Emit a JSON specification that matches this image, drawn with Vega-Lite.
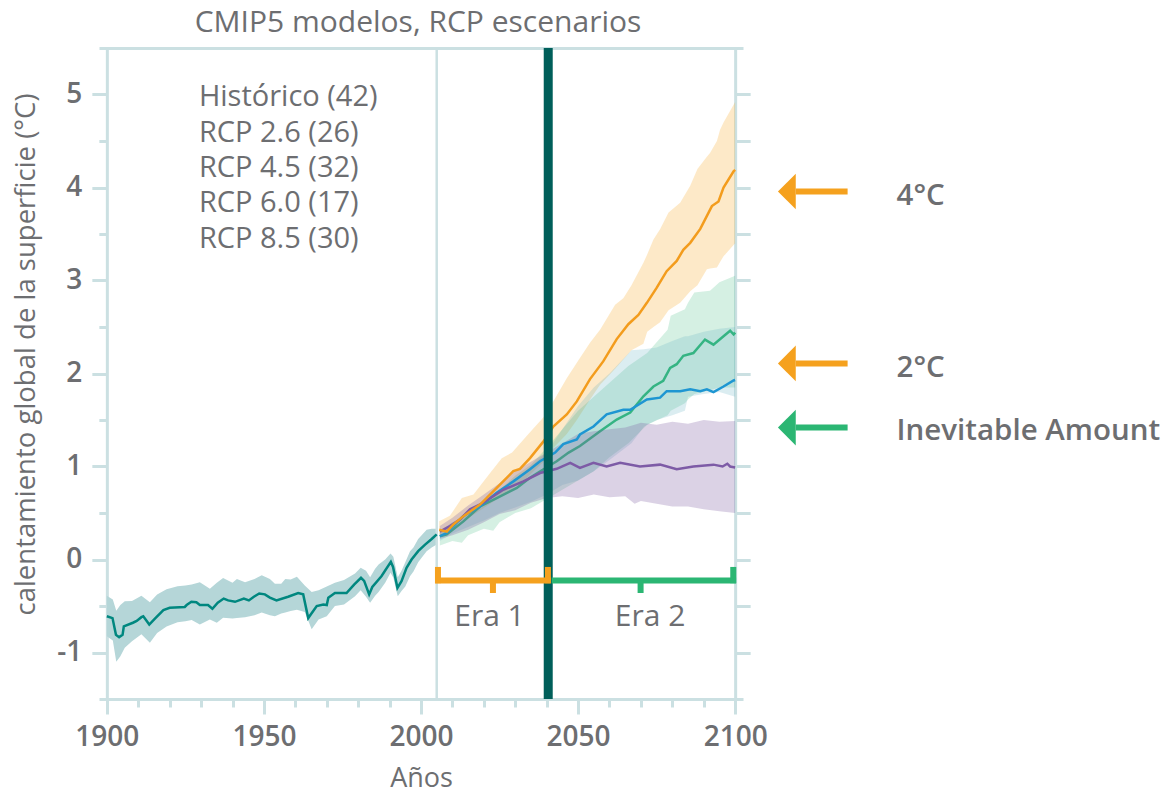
{
  "$schema": "https://vega.github.io/schema/vega-lite/v6.json",
  "width": 644,
  "height": 651,
  "autosize": {"type": "none"},
  "padding": {"left": 99, "top": 48, "right": 426, "bottom": 95},
  "background": "white",
  "config": {
    "view": {"stroke": null},
    "font": "Open Sans",
    "axis": {
      "domainColor": "#CBE0E2", "domainWidth": 3, "tickColor": "#CBE0E2", "tickWidth": 3,
      "grid": false, "labelFont": "Open Sans", "labelColor": "#6D6E71", "titleFont": "Open Sans", "titleColor": "#6D6E71"
    }
  },
  "title": {"text": "CMIP5 modelos, RCP escenarios", "fontSize": 30, "fontWeight": "normal", "color": "#6D6E71", "font": "Open Sans", "offset": 6, "anchor": "middle", "dx": -3},
  "datasets": {
    "hist": [
      {"yr":1900,"v":-0.61},{"yr":1901.8,"v":-0.63},{"yr":1902.9,"v":-0.81},{"yr":1903.9,"v":-0.835},{"yr":1905,"v":-0.81},{"yr":1905.4,"v":-0.72},{"yr":1908.3,"v":-0.68},{"yr":1909.5,"v":-0.66},{"yr":1911,"v":-0.62},{"yr":1911.6,"v":-0.61},{"yr":1913.5,"v":-0.70},{"yr":1915.3,"v":-0.635},{"yr":1918,"v":-0.545},{"yr":1920,"v":-0.52},{"yr":1924.8,"v":-0.51},{"yr":1925.4,"v":-0.49},{"yr":1926.9,"v":-0.455},{"yr":1928.5,"v":-0.46},{"yr":1929.6,"v":-0.49},{"yr":1932.2,"v":-0.49},{"yr":1933.6,"v":-0.53},{"yr":1935.3,"v":-0.465},{"yr":1937.2,"v":-0.42},{"yr":1938.6,"v":-0.44},{"yr":1940.8,"v":-0.455},{"yr":1943.6,"v":-0.42},{"yr":1945.2,"v":-0.44},{"yr":1946.8,"v":-0.40},{"yr":1948.5,"v":-0.365},{"yr":1950.3,"v":-0.375},{"yr":1951.9,"v":-0.41},{"yr":1954,"v":-0.44},{"yr":1957.7,"v":-0.40},{"yr":1960.9,"v":-0.36},{"yr":1962.5,"v":-0.375},{"yr":1964.1,"v":-0.63},{"yr":1966.8,"v":-0.50},{"yr":1968.9,"v":-0.485},{"yr":1970,"v":-0.49},{"yr":1970.5,"v":-0.41},{"yr":1972.6,"v":-0.36},{"yr":1976.3,"v":-0.36},{"yr":1978.7,"v":-0.27},{"yr":1980.9,"v":-0.197},{"yr":1981.9,"v":-0.23},{"yr":1983.5,"v":-0.375},{"yr":1984.5,"v":-0.295},{"yr":1987.4,"v":-0.18},{"yr":1990.4,"v":-0.025},{"yr":1991.1,"v":-0.08},{"yr":1992.5,"v":-0.305},{"yr":1993.8,"v":-0.233},{"yr":1995.4,"v":-0.09},{"yr":1997,"v":0.0},{"yr":1999.1,"v":0.09},{"yr":2001.3,"v":0.16},{"yr":2003.4,"v":0.22},{"yr":2005,"v":0.27}
    ],
    "histband": [
      {"yr":1900,"lo":-0.825,"hi":-0.39},{"yr":1901.9,"lo":-0.87,"hi":-0.43},{"yr":1903,"lo":-1.1,"hi":-0.55},{"yr":1904.3,"lo":-1.04,"hi":-0.49},{"yr":1905.7,"lo":-0.95,"hi":-0.45},{"yr":1908,"lo":-0.88,"hi":-0.445},{"yr":1911,"lo":-0.805,"hi":-0.39},{"yr":1913.7,"lo":-0.895,"hi":-0.46},{"yr":1916,"lo":-0.79,"hi":-0.375},{"yr":1919,"lo":-0.72,"hi":-0.32},{"yr":1922.5,"lo":-0.675,"hi":-0.287},{"yr":1925,"lo":-0.665,"hi":-0.28},{"yr":1927,"lo":-0.65,"hi":-0.27},{"yr":1929.6,"lo":-0.70,"hi":-0.245},{"yr":1932.8,"lo":-0.645,"hi":-0.315},{"yr":1935,"lo":-0.68,"hi":-0.25},{"yr":1937,"lo":-0.625,"hi":-0.2},{"yr":1940,"lo":-0.635,"hi":-0.25},{"yr":1941.4,"lo":-0.63,"hi":-0.21},{"yr":1944,"lo":-0.62,"hi":-0.245},{"yr":1947,"lo":-0.6,"hi":-0.21},{"yr":1949.3,"lo":-0.57,"hi":-0.17},{"yr":1951.9,"lo":-0.6,"hi":-0.21},{"yr":1953.5,"lo":-0.61,"hi":-0.26},{"yr":1955.5,"lo":-0.58,"hi":-0.26},{"yr":1956.8,"lo":-0.57,"hi":-0.21},{"yr":1958.5,"lo":-0.555,"hi":-0.215},{"yr":1960.5,"lo":-0.54,"hi":-0.185},{"yr":1963,"lo":-0.565,"hi":-0.28},{"yr":1965.2,"lo":-0.75,"hi":-0.35},{"yr":1967.4,"lo":-0.645,"hi":-0.33},{"yr":1970,"lo":-0.61,"hi":-0.29},{"yr":1972.6,"lo":-0.5,"hi":-0.25},{"yr":1975.5,"lo":-0.485,"hi":-0.22},{"yr":1979,"lo":-0.395,"hi":-0.15},{"yr":1980.8,"lo":-0.33,"hi":-0.09},{"yr":1982.5,"lo":-0.4,"hi":-0.12},{"yr":1983.8,"lo":-0.465,"hi":-0.19},{"yr":1985.4,"lo":-0.39,"hi":-0.1},{"yr":1986.5,"lo":-0.35,"hi":-0.055},{"yr":1988.6,"lo":-0.25,"hi":0.0},{"yr":1990.3,"lo":-0.143,"hi":0.065},{"yr":1991.2,"lo":-0.195,"hi":0.03},{"yr":1992.6,"lo":-0.395,"hi":-0.19},{"yr":1993.8,"lo":-0.34,"hi":-0.12},{"yr":1995,"lo":-0.29,"hi":-0.03},{"yr":1996.5,"lo":-0.18,"hi":0.09},{"yr":1997.6,"lo":-0.13,"hi":0.13},{"yr":1999.1,"lo":-0.03,"hi":0.22},{"yr":2000.2,"lo":0.018,"hi":0.26},{"yr":2001.8,"lo":0.09,"hi":0.32},{"yr":2003.4,"lo":0.13,"hi":0.33},{"yr":2005,"lo":0.16,"hi":0.33}
    ],
    "fut": [
      {"s":"rcp85","yr":2005.8,"v":0.32},{"s":"rcp85","yr":2008.2,"v":0.30},{"s":"rcp85","yr":2010.3,"v":0.376},{"s":"rcp85","yr":2013.5,"v":0.466},{"s":"rcp85","yr":2018.8,"v":0.59},{"s":"rcp85","yr":2024.1,"v":0.77},{"s":"rcp85","yr":2029.4,"v":0.95},{"s":"rcp85","yr":2031.5,"v":0.975},{"s":"rcp85","yr":2034.7,"v":1.09},{"s":"rcp85","yr":2039,"v":1.27},{"s":"rcp85","yr":2042.1,"v":1.43},{"s":"rcp85","yr":2046.4,"v":1.56},{"s":"rcp85","yr":2049.6,"v":1.70},{"s":"rcp85","yr":2053.8,"v":1.94},{"s":"rcp85","yr":2058,"v":2.13},{"s":"rcp85","yr":2062.3,"v":2.37},{"s":"rcp85","yr":2066,"v":2.53},{"s":"rcp85","yr":2069.2,"v":2.63},{"s":"rcp85","yr":2071.9,"v":2.76},{"s":"rcp85","yr":2075,"v":2.92},{"s":"rcp85","yr":2078.2,"v":3.1},{"s":"rcp85","yr":2081.4,"v":3.21},{"s":"rcp85","yr":2083.5,"v":3.33},{"s":"rcp85","yr":2085.7,"v":3.405},{"s":"rcp85","yr":2088.9,"v":3.555},{"s":"rcp85","yr":2092.6,"v":3.80},{"s":"rcp85","yr":2094.7,"v":3.85},{"s":"rcp85","yr":2096.3,"v":4.0},{"s":"rcp85","yr":2099.5,"v":4.175},{"s":"rcp85","yr":2100,"v":4.19},
      {"s":"rcp60","yr":2006,"v":0.25},{"s":"rcp60","yr":2008.2,"v":0.27},{"s":"rcp60","yr":2013.5,"v":0.41},{"s":"rcp60","yr":2018.8,"v":0.57},{"s":"rcp60","yr":2024.1,"v":0.66},{"s":"rcp60","yr":2030.5,"v":0.77},{"s":"rcp60","yr":2034.7,"v":0.88},{"s":"rcp60","yr":2039,"v":0.97},{"s":"rcp60","yr":2043.2,"v":1.057},{"s":"rcp60","yr":2047,"v":1.15},{"s":"rcp60","yr":2050.6,"v":1.22},{"s":"rcp60","yr":2057,"v":1.38},{"s":"rcp60","yr":2062.3,"v":1.505},{"s":"rcp60","yr":2066.6,"v":1.58},{"s":"rcp60","yr":2070.8,"v":1.755},{"s":"rcp60","yr":2074,"v":1.86},{"s":"rcp60","yr":2077.1,"v":1.92},{"s":"rcp60","yr":2079.3,"v":2.06},{"s":"rcp60","yr":2081.4,"v":2.10},{"s":"rcp60","yr":2083.5,"v":2.19},{"s":"rcp60","yr":2086.7,"v":2.22},{"s":"rcp60","yr":2090.4,"v":2.365},{"s":"rcp60","yr":2093.1,"v":2.31},{"s":"rcp60","yr":2096.3,"v":2.40},{"s":"rcp60","yr":2098.4,"v":2.46},{"s":"rcp60","yr":2099.5,"v":2.42},{"s":"rcp60","yr":2100,"v":2.44},
      {"s":"rcp45","yr":2006,"v":0.25},{"s":"rcp45","yr":2008.2,"v":0.287},{"s":"rcp45","yr":2013.4,"v":0.466},{"s":"rcp45","yr":2018.8,"v":0.573},{"s":"rcp45","yr":2024.1,"v":0.717},{"s":"rcp45","yr":2029.4,"v":0.84},{"s":"rcp45","yr":2034.7,"v":0.97},{"s":"rcp45","yr":2037.9,"v":1.057},{"s":"rcp45","yr":2042.7,"v":1.15},{"s":"rcp45","yr":2045.3,"v":1.24},{"s":"rcp45","yr":2049.6,"v":1.29},{"s":"rcp45","yr":2050.6,"v":1.344},{"s":"rcp45","yr":2054.9,"v":1.43},{"s":"rcp45","yr":2059.1,"v":1.56},{"s":"rcp45","yr":2064.4,"v":1.61},{"s":"rcp45","yr":2066.6,"v":1.61},{"s":"rcp45","yr":2071.9,"v":1.72},{"s":"rcp45","yr":2076.1,"v":1.74},{"s":"rcp45","yr":2078.2,"v":1.81},{"s":"rcp45","yr":2082.5,"v":1.81},{"s":"rcp45","yr":2085.7,"v":1.83},{"s":"rcp45","yr":2088.9,"v":1.81},{"s":"rcp45","yr":2091,"v":1.83},{"s":"rcp45","yr":2093.1,"v":1.80},{"s":"rcp45","yr":2096.3,"v":1.86},{"s":"rcp45","yr":2099.5,"v":1.925},{"s":"rcp45","yr":2100,"v":1.93},
      {"s":"rcp26","yr":2006,"v":0.30},{"s":"rcp26","yr":2009.2,"v":0.36},{"s":"rcp26","yr":2012.4,"v":0.43},{"s":"rcp26","yr":2015.6,"v":0.54},{"s":"rcp26","yr":2019.8,"v":0.61},{"s":"rcp26","yr":2026.2,"v":0.75},{"s":"rcp26","yr":2032.6,"v":0.84},{"s":"rcp26","yr":2037.9,"v":0.93},{"s":"rcp26","yr":2043.2,"v":0.975},{"s":"rcp26","yr":2047.5,"v":1.04},{"s":"rcp26","yr":2050.6,"v":0.986},{"s":"rcp26","yr":2054.9,"v":1.04},{"s":"rcp26","yr":2059.1,"v":1.0},{"s":"rcp26","yr":2063.4,"v":1.04},{"s":"rcp26","yr":2069.7,"v":1.0},{"s":"rcp26","yr":2076.1,"v":1.02},{"s":"rcp26","yr":2081.4,"v":0.97},{"s":"rcp26","yr":2086.7,"v":1.0},{"s":"rcp26","yr":2093.1,"v":1.02},{"s":"rcp26","yr":2096,"v":1.0},{"s":"rcp26","yr":2097.5,"v":1.03},{"s":"rcp26","yr":2098.4,"v":1.0},{"s":"rcp26","yr":2100,"v":0.99}
    ],
    "futband": [
      {"s":"rcp85","yr":2005.8,"lo":0.25,"hi":0.41},{"s":"rcp85","yr":2009.2,"lo":0.3,"hi":0.47},{"s":"rcp85","yr":2013,"lo":0.4,"hi":0.66},{"s":"rcp85","yr":2016.7,"lo":0.48,"hi":0.7},{"s":"rcp85","yr":2022,"lo":0.6,"hi":0.93},{"s":"rcp85","yr":2025.7,"lo":0.68,"hi":1.09},{"s":"rcp85","yr":2029,"lo":0.76,"hi":1.15},{"s":"rcp85","yr":2033.7,"lo":0.88,"hi":1.33},{"s":"rcp85","yr":2039,"lo":1.05,"hi":1.53},{"s":"rcp85","yr":2042.1,"lo":1.2,"hi":1.7},{"s":"rcp85","yr":2046.4,"lo":1.35,"hi":1.95},{"s":"rcp85","yr":2049.6,"lo":1.5,"hi":2.115},{"s":"rcp85","yr":2053.8,"lo":1.72,"hi":2.33},{"s":"rcp85","yr":2057,"lo":1.88,"hi":2.47},{"s":"rcp85","yr":2061.8,"lo":2.05,"hi":2.74},{"s":"rcp85","yr":2064.4,"lo":2.15,"hi":2.81},{"s":"rcp85","yr":2067,"lo":2.25,"hi":2.95},{"s":"rcp85","yr":2070.8,"lo":2.32,"hi":3.19},{"s":"rcp85","yr":2072,"lo":2.45,"hi":3.28},{"s":"rcp85","yr":2074,"lo":2.5,"hi":3.44},{"s":"rcp85","yr":2076.1,"lo":2.55,"hi":3.55},{"s":"rcp85","yr":2078.8,"lo":2.68,"hi":3.73},{"s":"rcp85","yr":2082.5,"lo":2.76,"hi":3.835},{"s":"rcp85","yr":2085.7,"lo":2.885,"hi":4.02},{"s":"rcp85","yr":2088,"lo":2.95,"hi":4.2},{"s":"rcp85","yr":2091,"lo":3.12,"hi":4.33},{"s":"rcp85","yr":2092,"lo":3.13,"hi":4.37},{"s":"rcp85","yr":2094.2,"lo":3.14,"hi":4.5},{"s":"rcp85","yr":2095.2,"lo":3.2,"hi":4.62},{"s":"rcp85","yr":2096.3,"lo":3.26,"hi":4.7},{"s":"rcp85","yr":2100,"lo":3.4,"hi":4.92},
      {"s":"rcp60","yr":2006,"lo":0.15,"hi":0.3},{"s":"rcp60","yr":2010,"lo":0.2,"hi":0.4},{"s":"rcp60","yr":2013,"lo":0.18,"hi":0.45},{"s":"rcp60","yr":2015,"lo":0.26,"hi":0.5},{"s":"rcp60","yr":2020,"lo":0.33,"hi":0.62},{"s":"rcp60","yr":2023,"lo":0.31,"hi":0.7},{"s":"rcp60","yr":2025,"lo":0.4,"hi":0.75},{"s":"rcp60","yr":2030,"lo":0.5,"hi":0.9},{"s":"rcp60","yr":2035,"lo":0.55,"hi":1.02},{"s":"rcp60","yr":2040,"lo":0.65,"hi":1.2},{"s":"rcp60","yr":2045,"lo":0.75,"hi":1.4},{"s":"rcp60","yr":2050,"lo":0.85,"hi":1.6},{"s":"rcp60","yr":2055,"lo":0.95,"hi":1.75},{"s":"rcp60","yr":2060,"lo":1.1,"hi":1.9},{"s":"rcp60","yr":2066,"lo":1.25,"hi":2.08},{"s":"rcp60","yr":2072,"lo":1.45,"hi":2.22},{"s":"rcp60","yr":2078.5,"lo":1.55,"hi":2.47},{"s":"rcp60","yr":2079.5,"lo":1.6,"hi":2.62},{"s":"rcp60","yr":2084,"lo":1.68,"hi":2.69},{"s":"rcp60","yr":2085,"lo":1.72,"hi":2.76},{"s":"rcp60","yr":2087,"lo":1.78,"hi":2.87},{"s":"rcp60","yr":2092,"lo":1.82,"hi":2.89},{"s":"rcp60","yr":2095,"lo":1.85,"hi":2.98},{"s":"rcp60","yr":2100,"lo":1.85,"hi":3.05},
      {"s":"rcp45","yr":2006,"lo":0.2,"hi":0.3},{"s":"rcp45","yr":2010,"lo":0.28,"hi":0.38},{"s":"rcp45","yr":2015,"lo":0.35,"hi":0.5},{"s":"rcp45","yr":2020,"lo":0.42,"hi":0.6},{"s":"rcp45","yr":2025,"lo":0.5,"hi":0.72},{"s":"rcp45","yr":2030,"lo":0.56,"hi":0.85},{"s":"rcp45","yr":2035,"lo":0.62,"hi":1.0},{"s":"rcp45","yr":2040,"lo":0.7,"hi":1.15},{"s":"rcp45","yr":2045,"lo":0.8,"hi":1.4},{"s":"rcp45","yr":2050,"lo":0.85,"hi":1.65},{"s":"rcp45","yr":2055,"lo":0.95,"hi":1.85},{"s":"rcp45","yr":2060,"lo":1.07,"hi":2.0},{"s":"rcp45","yr":2067,"lo":1.25,"hi":2.25},{"s":"rcp45","yr":2071,"lo":1.43,"hi":2.26},{"s":"rcp45","yr":2075,"lo":1.5,"hi":2.28},{"s":"rcp45","yr":2080,"lo":1.55,"hi":2.35},{"s":"rcp45","yr":2084,"lo":1.6,"hi":2.4},{"s":"rcp45","yr":2085,"lo":1.75,"hi":2.4},{"s":"rcp45","yr":2090,"lo":1.78,"hi":2.45},{"s":"rcp45","yr":2095,"lo":1.8,"hi":2.48},{"s":"rcp45","yr":2100,"lo":1.75,"hi":2.5},
      {"s":"rcp26","yr":2006,"lo":0.22,"hi":0.36},{"s":"rcp26","yr":2010,"lo":0.26,"hi":0.45},{"s":"rcp26","yr":2015,"lo":0.32,"hi":0.58},{"s":"rcp26","yr":2020,"lo":0.4,"hi":0.7},{"s":"rcp26","yr":2025,"lo":0.49,"hi":0.82},{"s":"rcp26","yr":2030,"lo":0.53,"hi":0.95},{"s":"rcp26","yr":2035,"lo":0.61,"hi":1.05},{"s":"rcp26","yr":2040,"lo":0.66,"hi":1.15},{"s":"rcp26","yr":2045,"lo":0.68,"hi":1.25},{"s":"rcp26","yr":2050,"lo":0.66,"hi":1.35},{"s":"rcp26","yr":2055,"lo":0.70,"hi":1.38},{"s":"rcp26","yr":2060,"lo":0.67,"hi":1.4},{"s":"rcp26","yr":2065,"lo":0.68,"hi":1.42},{"s":"rcp26","yr":2068,"lo":0.6,"hi":1.45},{"s":"rcp26","yr":2070,"lo":0.63,"hi":1.47},{"s":"rcp26","yr":2075,"lo":0.6,"hi":1.45},{"s":"rcp26","yr":2080,"lo":0.57,"hi":1.48},{"s":"rcp26","yr":2085,"lo":0.57,"hi":1.46},{"s":"rcp26","yr":2090,"lo":0.54,"hi":1.5},{"s":"rcp26","yr":2095,"lo":0.52,"hi":1.48},{"s":"rcp26","yr":2100,"lo":0.5,"hi":1.49}
    ],
    "vlines": [{"k":"ref","yr":2005},{"k":"now","yr":2040.5}],
    "legend": [
      {"t":"Histórico (42)","yr":1929.3,"v":4.978},{"t":"RCP 2.6 (26)","yr":1929.3,"v":4.591},{"t":"RCP 4.5 (32)","yr":1929.3,"v":4.215},{"t":"RCP 6.0 (17)","yr":1929.3,"v":3.828},{"t":"RCP 8.5 (30)","yr":1929.3,"v":3.441}
    ],
    "brackets": [
      {"e":1,"x":2004.5,"x2":2041.3,"y":-0.226,"y2":-0.226},{"e":1,"x":2005.4,"x2":2005.4,"y":-0.08,"y2":-0.255},{"e":1,"x":2040.4,"x2":2040.4,"y":-0.08,"y2":-0.255},{"e":1,"x":2022.9,"x2":2022.9,"y":-0.226,"y2":-0.36},
      {"e":2,"x":2041.6,"x2":2100.3,"y":-0.226,"y2":-0.226},{"e":2,"x":2099.4,"x2":2099.4,"y":-0.08,"y2":-0.255},{"e":2,"x":2069.9,"x2":2069.9,"y":-0.226,"y2":-0.36}
    ],
    "eras": [{"t":"Era 1","yr":2021.8,"v":-0.618},{"t":"Era 2","yr":2072.9,"v":-0.618}],
    "arrows": [
      {"k":"a4","x":2119.3,"x2":2135.8,"v":3.957},{"k":"a2","x":2119.3,"x2":2135.8,"v":2.108},{"k":"ai","x":2119.3,"x2":2135.8,"v":1.419}
    ],
    "arrowlabels": [
      {"t":"4°C","yr":2151.4,"v":3.907},{"t":"2°C","yr":2151.4,"v":2.054},{"t":"Inevitable Amount","yr":2151.4,"v":1.38}
    ],
    "dummy": [{"yr":2000,"v":0}]
  },
  "layer": [
    {
      "layer": [
        {
          "data": {"name": "histband"},
          "mark": {"type": "area", "color": "#B5D6D8"},
          "encoding": {
            "x": {"field": "yr", "type": "quantitative", "scale": {"domain": [1897.5, 2102.5], "nice": false, "zero": false},
              "axis": {"values": [1900, 1950, 2000, 2050, 2100], "format": "d", "tickSize": 15, "labelPadding": 9, "labelFontSize": 28, "labelFontWeight": 600, "labelFlush": false, "labelOverlap": false, "title": "Años", "titleFontSize": 27, "titleFontWeight": "normal", "titleY": 66}},
            "y": {"field": "lo", "type": "quantitative", "scale": {"domain": [-1.5, 5.5], "nice": false, "zero": false},
              "axis": {"values": [-1, 0, 1, 2, 3, 4, 5], "tickSize": 15, "labelPadding": 10, "labelFontSize": 28, "labelFontWeight": 600, "labelExpr": "'' + datum.value", "offset": -7.85, "title": "calentamiento global de la superficie (°C)", "titleFontSize": 27.5, "titleFontWeight": "normal", "titleX": -66, "titleY": 306}},
            "y2": {"field": "hi"}
          }
        },
        {
          "data": {"name": "vlines"},
          "transform": [{"filter": "datum.k == 'ref'"}],
          "mark": {"type": "rule", "color": "#CBE0E2", "strokeWidth": 2.5},
          "encoding": {"x": {"field": "yr", "type": "quantitative"}}
        },
        {
          "data": {"name": "futband"},
          "transform": [{"filter": "datum.s == 'rcp85'"}],
          "mark": {"type": "area", "color": "#F6A623", "opacity": 0.25},
          "encoding": {"x": {"field": "yr", "type": "quantitative"}, "y": {"field": "lo", "type": "quantitative"}, "y2": {"field": "hi"}}
        },
        {
          "data": {"name": "futband"},
          "transform": [{"filter": "datum.s == 'rcp60'"}],
          "mark": {"type": "area", "color": "#2BB673", "opacity": 0.2},
          "encoding": {"x": {"field": "yr", "type": "quantitative"}, "y": {"field": "lo", "type": "quantitative"}, "y2": {"field": "hi"}}
        },
        {
          "data": {"name": "fut"},
          "transform": [{"filter": "datum.s == 'rcp60'"}],
          "mark": {"type": "line", "color": "#2BB673", "strokeWidth": 2.5},
          "encoding": {"x": {"field": "yr", "type": "quantitative"}, "y": {"field": "v", "type": "quantitative"}}
        },
        {
          "data": {"name": "futband"},
          "transform": [{"filter": "datum.s == 'rcp45'"}],
          "mark": {"type": "area", "color": "#5AAFC0", "opacity": 0.22},
          "encoding": {"x": {"field": "yr", "type": "quantitative"}, "y": {"field": "lo", "type": "quantitative"}, "y2": {"field": "hi"}}
        },
        {
          "data": {"name": "futband"},
          "transform": [{"filter": "datum.s == 'rcp26'"}],
          "mark": {"type": "area", "color": "#7E5FA3", "opacity": 0.28},
          "encoding": {"x": {"field": "yr", "type": "quantitative"}, "y": {"field": "lo", "type": "quantitative"}, "y2": {"field": "hi"}}
        },
        {
          "data": {"name": "hist"},
          "mark": {"type": "line", "color": "#00877F", "strokeWidth": 2.5},
          "encoding": {"x": {"field": "yr", "type": "quantitative"}, "y": {"field": "v", "type": "quantitative"}}
        },
        {
          "data": {"name": "fut"},
          "transform": [{"filter": "datum.s == 'rcp45'"}],
          "mark": {"type": "line", "color": "#1E96D2", "strokeWidth": 2.5},
          "encoding": {"x": {"field": "yr", "type": "quantitative"}, "y": {"field": "v", "type": "quantitative"}}
        },
        {
          "data": {"name": "fut"},
          "transform": [{"filter": "datum.s == 'rcp26'"}],
          "mark": {"type": "line", "color": "#7D5BA6", "strokeWidth": 2.5},
          "encoding": {"x": {"field": "yr", "type": "quantitative"}, "y": {"field": "v", "type": "quantitative"}}
        },
        {
          "data": {"name": "fut"},
          "transform": [{"filter": "datum.s == 'rcp85'"}],
          "mark": {"type": "line", "color": "#F39C1D", "strokeWidth": 2.5},
          "encoding": {"x": {"field": "yr", "type": "quantitative"}, "y": {"field": "v", "type": "quantitative"}}
        },
        {
          "data": {"name": "vlines"},
          "transform": [{"filter": "datum.k == 'now'"}],
          "mark": {"type": "rule", "color": "#005F5A", "strokeWidth": 9},
          "encoding": {"x": {"field": "yr", "type": "quantitative"}}
        },
        {
          "data": {"name": "brackets"},
          "transform": [{"filter": "datum.e == 1"}],
          "mark": {"type": "rule", "color": "#F5A11E", "strokeWidth": 6, "strokeCap": "butt"},
          "encoding": {"x": {"field": "x", "type": "quantitative"}, "x2": {"field": "x2"}, "y": {"field": "y", "type": "quantitative"}, "y2": {"field": "y2"}}
        },
        {
          "data": {"name": "brackets"},
          "transform": [{"filter": "datum.e == 2"}],
          "mark": {"type": "rule", "color": "#2BB673", "strokeWidth": 6, "strokeCap": "butt"},
          "encoding": {"x": {"field": "x", "type": "quantitative"}, "x2": {"field": "x2"}, "y": {"field": "y", "type": "quantitative"}, "y2": {"field": "y2"}}
        },
        {
          "data": {"name": "eras"},
          "mark": {"type": "text", "font": "Open Sans", "fontSize": 30, "color": "#6D6E71", "align": "center", "baseline": "middle"},
          "encoding": {"x": {"field": "yr", "type": "quantitative"}, "y": {"field": "v", "type": "quantitative"}, "text": {"field": "t"}}
        },
        {
          "data": {"name": "legend"},
          "mark": {"type": "text", "font": "Open Sans", "fontSize": 29, "color": "#6D6E71", "align": "left", "baseline": "middle"},
          "encoding": {"x": {"field": "yr", "type": "quantitative"}, "y": {"field": "v", "type": "quantitative"}, "text": {"field": "t"}}
        },
        {
          "data": {"name": "arrows"},
          "transform": [{"filter": "datum.k != 'ai'"}],
          "mark": {"type": "rule", "color": "#F5A11E", "strokeWidth": 6, "strokeCap": "butt"},
          "encoding": {"x": {"field": "x", "type": "quantitative"}, "x2": {"field": "x2"}, "y": {"field": "v", "type": "quantitative"}}
        },
        {
          "data": {"name": "arrows"},
          "transform": [{"filter": "datum.k != 'ai'"}],
          "mark": {"type": "point", "shape": "M-1,0L0,-1L0,1Z", "size": 1275, "filled": true, "color": "#F5A11E", "opacity": 1, "strokeWidth": 0},
          "encoding": {"x": {"field": "x", "type": "quantitative"}, "y": {"field": "v", "type": "quantitative"}}
        },
        {
          "data": {"name": "arrows"},
          "transform": [{"filter": "datum.k == 'ai'"}],
          "mark": {"type": "rule", "color": "#2BB673", "strokeWidth": 6, "strokeCap": "butt"},
          "encoding": {"x": {"field": "x", "type": "quantitative"}, "x2": {"field": "x2"}, "y": {"field": "v", "type": "quantitative"}}
        },
        {
          "data": {"name": "arrows"},
          "transform": [{"filter": "datum.k == 'ai'"}],
          "mark": {"type": "point", "shape": "M-1,0L0,-1L0,1Z", "size": 1275, "filled": true, "color": "#2BB673", "opacity": 1, "strokeWidth": 0},
          "encoding": {"x": {"field": "x", "type": "quantitative"}, "y": {"field": "v", "type": "quantitative"}}
        },
        {
          "data": {"name": "arrowlabels"},
          "mark": {"type": "text", "font": "Open Sans", "fontSize": 29.5, "fontWeight": 600, "color": "#6D6E71", "align": "left", "baseline": "middle"},
          "encoding": {"x": {"field": "yr", "type": "quantitative"}, "y": {"field": "v", "type": "quantitative"}, "text": {"field": "t"}}
        }
      ]
    },
    {
      "data": {"name": "dummy"},
      "mark": {"type": "rule", "opacity": 0},
      "encoding": {"y": {"field": "v", "type": "quantitative", "scale": {"domain": [-1.5, 5.5], "nice": false, "zero": false},
        "axis": {"orient": "left", "values": [-0.5, 0.5, 1.5, 2.5, 3.5, 4.5], "tickSize": 8, "labels": false, "domain": false, "title": null, "offset": -7.85}}}
    },
    {
      "data": {"name": "dummy"},
      "mark": {"type": "rule", "opacity": 0},
      "encoding": {"y": {"field": "v", "type": "quantitative", "scale": {"domain": [-1.5, 5.5], "nice": false, "zero": false},
        "axis": {"orient": "right", "values": [-1, -0.5, 0, 0.5, 1, 1.5, 2, 2.5, 3, 3.5, 4, 4.5, 5], "tickSize": 15, "labels": false, "domain": true, "title": null, "offset": -7.85}}}
    },
    {
      "data": {"name": "dummy"},
      "mark": {"type": "rule", "opacity": 0},
      "encoding": {"x": {"field": "yr", "type": "quantitative", "scale": {"domain": [1897.5, 2102.5], "nice": false, "zero": false},
        "axis": {"orient": "top", "ticks": false, "labels": false, "domain": true, "title": null}}}
    },
    {
      "data": {"name": "dummy"},
      "mark": {"type": "rule", "opacity": 0},
      "encoding": {"x": {"field": "yr", "type": "quantitative", "scale": {"domain": [1897.5, 2102.5], "nice": false, "zero": false},
        "axis": {"orient": "bottom", "values": [1910, 1920, 1930, 1940, 1960, 1970, 1980, 1990, 2010, 2020, 2030, 2040, 2060, 2070, 2080, 2090], "tickSize": 8, "labels": false, "domain": false, "title": null}}}
    }
  ],
  "resolve": {"axis": {"x": "independent", "y": "independent"}}
}
